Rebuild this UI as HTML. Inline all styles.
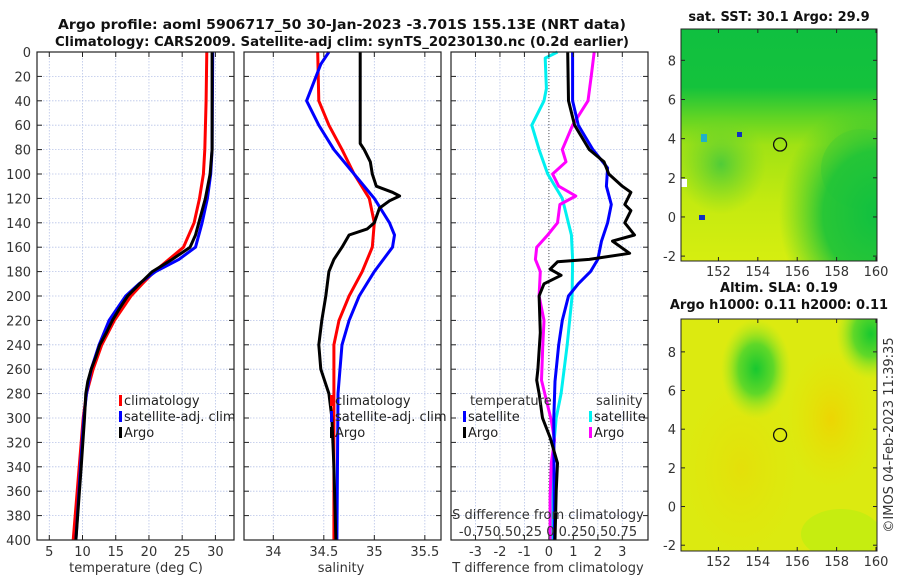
<!DOCTYPE html>
<html><head><meta charset="utf-8"><style>
html,body{margin:0;padding:0;background:#fff;}
svg{display:block;font-family:"DejaVu Sans","Liberation Sans",sans-serif;}
</style></head><body>
<svg id="fig" width="900" height="580" viewBox="0 0 900 580" xmlns="http://www.w3.org/2000/svg">
<defs>
<linearGradient id="sstBase" x1="0" y1="0" x2="0" y2="1">
<stop offset="0" stop-color="#10c040"/><stop offset="0.25" stop-color="#14c23c"/>
<stop offset="0.38" stop-color="#60d424"/><stop offset="0.5" stop-color="#a0e214"/>
<stop offset="0.75" stop-color="#c4ea10"/><stop offset="1" stop-color="#d6ee10"/></linearGradient>
<radialGradient id="sstRight" cx="1" cy="0.8" r="0.5"><stop offset="0" stop-color="#10c040"/><stop offset="0.55" stop-color="#20c438" stop-opacity="0.95"/><stop offset="1" stop-color="#40cc30" stop-opacity="0"/></radialGradient>
<radialGradient id="sstLeft" cx="0.5" cy="0.5" r="0.5"><stop offset="0" stop-color="#50cc38"/><stop offset="1" stop-color="#70d428" stop-opacity="0"/></radialGradient>
<radialGradient id="slaGreen" cx="0.5" cy="0.5" r="0.5"><stop offset="0" stop-color="#18c830"/><stop offset="0.5" stop-color="#60d828"/><stop offset="1" stop-color="#a8e820" stop-opacity="0"/></radialGradient>
<radialGradient id="slaOrange" cx="0.5" cy="0.5" r="0.5"><stop offset="0" stop-color="#f0d000"/><stop offset="1" stop-color="#e8e000" stop-opacity="0"/></radialGradient>
</defs>
<g id="titles" font-weight="bold" font-size="13" text-anchor="middle" fill="#111">
<text x="342" y="29" textLength="568" lengthAdjust="spacingAndGlyphs">Argo profile: aoml 5906717_50 30-Jan-2023 -3.701S 155.13E (NRT data)</text>
<text x="342" y="46" textLength="574" lengthAdjust="spacingAndGlyphs">Climatology: CARS2009. Satellite-adj clim: synTS_20230130.nc (0.2d earlier)</text>
</g>
<g id="panels"></g>
<g id="maps"></g>
<text transform="translate(893,435) rotate(-90)" text-anchor="middle" font-size="13" fill="#333">©IMOS 04-Feb-2023 11:39:35</text>
</svg>
<script>
// ---- data ----
const depthTicks = [0,20,40,60,80,100,120,140,160,180,200,220,240,260,280,300,320,340,360,380,400];
const tempTicks = [5,10,15,20,25,30];
const salTicks = [34,34.5,35,35.5];
const salTickLabels = ["34","34.5","35","35.5"];
const diffTicks = [-3,-2,-1,0,1,2,3];

const climTDepth = [0,40,80,100,120,140,160,170,180,190,200,220,240,260,280,300,340,400];
const climT = [28.7,28.6,28.4,28.2,27.6,26.8,25.2,23.0,20.8,19.0,17.3,14.8,12.9,11.6,10.6,10.1,9.5,8.6];
const satTDepth = [0,80,100,120,140,160,170,180,190,200,220,240,260,280,300,340,400];
const satT = [29.6,29.5,29.3,28.8,28.0,27.0,24.5,21.0,18.5,16.5,14.0,12.5,11.3,10.6,10.2,9.7,9.0];
const argoTDepth = [0,80,100,120,140,150,160,170,180,190,200,210,220,230,240,250,260,270,280,300,340,400];
const argoT = [29.5,29.5,29.2,28.5,27.5,27.0,26.2,23.5,20.5,18.6,16.8,15.6,14.5,13.6,12.6,12.0,11.3,10.8,10.5,10.3,9.8,9.0];

const climSDepth = [0,40,60,80,100,120,140,160,180,200,220,240,280,400];
const climS = [34.44,34.45,34.55,34.68,34.8,34.95,35.0,34.98,34.88,34.75,34.65,34.6,34.6,34.6];
const satSDepth = [0,10,40,60,80,100,120,140,150,160,180,200,220,240,280,400];
const satS = [34.55,34.47,34.33,34.45,34.6,34.8,35.0,35.15,35.2,35.18,35.0,34.85,34.75,34.68,34.64,34.63];
const argoSDepth = [0,75,80,90,100,110,115,118,122,128,140,145,150,160,170,180,200,220,240,260,280,300,340,400];
const argoS = [34.86,34.86,34.9,34.96,34.98,35.02,35.18,35.25,35.15,35.05,35.0,34.93,34.75,34.68,34.6,34.55,34.52,34.48,34.45,34.47,34.55,34.58,34.6,34.62];

// differences (T units; salinity diff plotted scaled x4)
const dSatTDepth = [0,40,60,80,95,110,125,140,155,170,180,190,200,220,240,270,300,400];
const dSatT = [0.97,0.97,1.2,1.8,2.4,2.35,2.55,2.4,2.15,2.0,1.7,1.2,0.8,0.55,0.4,0.25,0.2,0.22];
const dArgoTDepth = [0,40,60,80,90,100,110,115,125,130,140,150,155,165,170,172,178,183,190,200,230,260,269,280,300,316,337,360,400];
const dArgoT = [0.77,0.8,1.05,1.65,2.25,2.45,3.0,3.35,3.1,3.35,3.1,3.5,2.6,3.3,1.65,0.35,0.05,0.5,-0.2,-0.4,-0.35,-0.45,-0.5,-0.4,-0.26,0.05,0.35,0.3,0.25];
const dSatSDepth = [0,5,30,40,60,80,100,120,150,170,200,240,280,300,340,400];
const dSatS = [0.35,-0.15,-0.1,-0.2,-0.7,-0.4,-0.05,0.55,0.92,0.97,0.95,0.75,0.5,0.3,0.12,0.15];
const dArgoSDepth = [0,20,40,60,80,90,100,110,118,125,140,150,160,170,180,200,220,240,269,302,318,337,365,400];
const dArgoS = [1.85,1.73,1.6,0.97,0.55,0.7,0.15,0.4,1.1,0.45,0.35,-0.05,-0.5,-0.55,-0.35,-0.4,-0.2,-0.25,-0.3,0.1,0.23,0.1,0.05,0.05];
const sDiffLabelText = "-0.750.50.25 0 0.250.50.75";

const lonTicks = [152,154,156,158,160];
const latTicks = [-2,0,2,4,6,8];
const floatLon = [155.13];
const floatLat = [3.7];

// ---- helpers ----
const NS = "http://www.w3.org/2000/svg";
function mk(tag, attrs, parent){const e=document.createElementNS(NS,tag);for(const k in attrs)e.setAttribute(k,attrs[k]);parent.appendChild(e);return e;}
const top0 = 52, bot0 = 540;
const yD = d => top0 + (d/400)*(bot0-top0);
const panelsG = document.getElementById('panels');

function panel(name, x0, x1, dmin, dmax){
  const g = mk('g',{},panelsG);
  
  
  const xs = v => x0 + (v-dmin)/(dmax-dmin)*(x1-x0);
  return {g, xs, x0, x1};
}
function grid(p, xt){
  depthTicks.forEach(d=>{
    const l = mk('line',{x1:p.x0,x2:p.x1,y1:yD(d),y2:yD(d),stroke:'#b8c4e8','stroke-width':0.8,'stroke-dasharray':'1.5,1.5'},p.g);
    
    
  });
  xt.forEach(v=>{
    const l = mk('line',{x1:p.xs(v),x2:p.xs(v),y1:top0,y2:bot0,stroke:'#b8c4e8','stroke-width':0.8,'stroke-dasharray':'1.5,1.5'},p.g);
    
    
  });
}
function frame(p, xt, labels, ylabels){
  const r = mk('rect',{x:p.x0,y:top0,width:p.x1-p.x0,height:bot0-top0,fill:'none',stroke:'#222','stroke-width':1.2},p.g);
  
  
  depthTicks.forEach(d=>{
    mk('line',{x1:p.x0,x2:p.x0+5,y1:yD(d),y2:yD(d),stroke:'#222'},p.g);
    mk('line',{x1:p.x1,x2:p.x1-5,y1:yD(d),y2:yD(d),stroke:'#222'},p.g);
    if(ylabels){
      const t = mk('text',{x:p.x0-6,y:yD(d)+5,'text-anchor':'end','font-size':13,fill:'#333'},p.g);
      t.textContent = d;
      
      
    }
  });
  xt.forEach((v,i)=>{
    mk('line',{x1:p.xs(v),x2:p.xs(v),y1:bot0,y2:bot0-5,stroke:'#222'},p.g);
    mk('line',{x1:p.xs(v),x2:p.xs(v),y1:top0,y2:top0+5,stroke:'#222'},p.g);
    const t = mk('text',{x:p.xs(v),y:556,'text-anchor':'middle','font-size':13,fill:'#333'},p.g);
    t.textContent = labels[i];
    
    
  });
}
function line(p, depths, vals, color, w, name){
  const pts = depths.map((d,i)=>p.xs(vals[i]).toFixed(1)+','+yD(d).toFixed(1)).join(' ');
  const l = mk('polyline',{points:pts,fill:'none',stroke:color,'stroke-width':w,'stroke-linejoin':'round'},p.g);
  
  
}
function legend(p, x, y, color, label, name){
  const r = mk('rect',{x:x,y:y-10,width:3,height:11,fill:color},p.g);
  
  
  const t = mk('text',{x:x+5,y:y,'font-size':13,fill:'#222'},p.g);
  t.textContent = label;
  
  
}
function text(p, x, y, s, name, anchor){
  const t = mk('text',{x:x,y:y,'font-size':13,fill:'#333','text-anchor':anchor||'middle'},p.g);
  t.textContent = s;
  
  
}

// Panel 1: temperature
const p1 = panel('temperature-panel', 37, 234, 3.15, 32.8);
grid(p1, tempTicks);
line(p1, climTDepth, climT, '#ff0000', 3, 'climatology-temperature-line');
line(p1, satTDepth, satT, '#0000ff', 3, 'satellite-temperature-line');
line(p1, argoTDepth, argoT, '#000000', 3, 'argo-temperature-line');
frame(p1, tempTicks, tempTicks.map(String), true);
text(p1, 136, 572, 'temperature (deg C)', 'x-axis-title-temperature');
legend(p1, 119, 405, '#ff0000', 'climatology', 'legend-climatology');
legend(p1, 119, 421, '#0000ff', 'satellite-adj. clim', 'legend-satellite-adj');
legend(p1, 119, 437, '#000000', 'Argo', 'legend-argo');

// Panel 2: salinity
const p2 = panel('salinity-panel', 244, 441, 33.71, 35.66);
grid(p2, salTicks);
line(p2, climSDepth, climS, '#ff0000', 3, 'climatology-salinity-line');
line(p2, satSDepth, satS, '#0000ff', 3, 'satellite-salinity-line');
line(p2, argoSDepth, argoS, '#000000', 3, 'argo-salinity-line');
frame(p2, salTicks, salTickLabels, false);
text(p2, 341, 572, 'salinity', 'x-axis-title-salinity');
legend(p2, 330, 405, '#ff0000', 'climatology', 'legend-climatology-2');
legend(p2, 330, 421, '#0000ff', 'satellite-adj. clim', 'legend-satellite-adj-2');
legend(p2, 330, 437, '#000000', 'Argo', 'legend-argo-2');

// Panel 3: differences
const p3 = panel('difference-panel', 451, 648, -4.0, 4.05);
grid(p3, diffTicks);
const zl = mk('line',{x1:p3.xs(0),x2:p3.xs(0),y1:top0,y2:bot0,stroke:'#555','stroke-width':1,'stroke-dasharray':'1,2'},p3.g);


line(p3, dSatSDepth, dSatS, '#00f0f0', 3, 'salinity-satellite-diff-line');
line(p3, dArgoSDepth, dArgoS, '#ff00ff', 3, 'salinity-argo-diff-line');
line(p3, dSatTDepth, dSatT, '#0000ff', 3, 'temperature-satellite-diff-line');
line(p3, dArgoTDepth, dArgoT, '#000000', 3, 'temperature-argo-diff-line');
frame(p3, diffTicks, diffTicks.map(String), false);
text(p3, 548, 572, 'T difference from climatology', 'x-axis-title-t-diff');
text(p3, 548, 519, 'S difference from climatology', 'x-axis-title-s-diff');
text(p3, 548, 536, sDiffLabelText, 'salinity-diff-tick-labels');
text(p3, 470, 405, 'temperature', 'legend-temperature-heading', 'start');
text(p3, 596, 405, 'salinity', 'legend-salinity-heading', 'start');
legend(p3, 463, 421, '#0000ff', 'satellite', 'legend-t-satellite');
legend(p3, 463, 437, '#000000', 'Argo', 'legend-t-argo');
legend(p3, 589, 421, '#00f0f0', 'satellite', 'legend-s-satellite');
legend(p3, 589, 437, '#ff00ff', 'Argo', 'legend-s-argo');

// ---- maps ----
const mapsG = document.getElementById('maps');
function map(name, y0, y1, latMin, latMax, title1, title2, fillFn){
  const x0=681, x1=877, lonMin=150.1, lonMax=160.05;
  const g = mk('g',{},mapsG);
  
  
  const xs = v => x0 + (v-lonMin)/(lonMax-lonMin)*(x1-x0);
  const ys = v => y1 - (v-latMin)/(latMax-latMin)*(y1-y0);
  const inner = mk('svg',{x:x0,y:y0,width:x1-x0,height:y1-y0,viewBox:`0 0 ${x1-x0} ${y1-y0}`,preserveAspectRatio:'none'},g);
  fillFn(inner, x1-x0, y1-y0);
  const c = mk('circle',{cx:xs(floatLon[0]),cy:ys(floatLat[0]),r:6.5,fill:'none',stroke:'#111','stroke-width':1.3},g);
  
  
  const r = mk('rect',{x:x0,y:y0,width:x1-x0,height:y1-y0,fill:'none',stroke:'#222','stroke-width':1},g);
  
  
  lonTicks.forEach(v=>{
    mk('line',{x1:xs(v),x2:xs(v),y1:y1,y2:y1-4,stroke:'#222'},g);
    mk('line',{x1:xs(v),x2:xs(v),y1:y0,y2:y0+4,stroke:'#222'},g);
    const t = mk('text',{x:xs(v),y:y1+15,'text-anchor':'middle','font-size':13,fill:'#333'},g);
    t.textContent = v;
    
    
  });
  latTicks.forEach(v=>{
    mk('line',{x1:x0,x2:x0+4,y1:ys(v),y2:ys(v),stroke:'#222'},g);
    mk('line',{x1:x1,x2:x1-4,y1:ys(v),y2:ys(v),stroke:'#222'},g);
    const t = mk('text',{x:x0-5,y:ys(v)+5,'text-anchor':'end','font-size':13,fill:'#333'},g);
    t.textContent = v;
    
    
  });
  const tt = mk('text',{x:779,y:title2? y0-27: y0-8,'text-anchor':'middle','font-size':13,'font-weight':'bold',fill:'#111'},g);
  tt.textContent = title1;
  
  
  if(title2){
    const t2 = mk('text',{x:779,y:y0-10,'text-anchor':'middle','font-size':13,'font-weight':'bold',fill:'#111'},g);
    t2.textContent = title2;
    
    
  }
}
map('sst-map', 29, 261, -2.25, 9.6, 'sat. SST: 30.1 Argo: 29.9', null, (s,w,h)=>{
  mk('rect',{x:0,y:0,width:w,height:h,fill:'url(#sstBase)'},s);
  mk('ellipse',{cx:40,cy:135,rx:45,ry:50,fill:'url(#sstLeft)'},s);
  mk('ellipse',{cx:180,cy:140,rx:40,ry:40,fill:'#60d028',opacity:0.5},s);
  mk('rect',{x:0,y:0,width:w,height:h,fill:'url(#sstRight)'},s);
  mk('rect',{x:0,y:150,width:6,height:8,fill:'#ffffff'},s);
  mk('rect',{x:18,y:186,width:6,height:5,fill:'#1030c0'},s);
  mk('rect',{x:56,y:103,width:5,height:5,fill:'#1030c0'},s);
  mk('rect',{x:20,y:105,width:6,height:8,fill:'#20b0c8'},s);
});
map('sla-map', 319, 551, -2.3, 9.7, 'Altim. SLA: 0.19', 'Argo h1000: 0.11 h2000: 0.11', (s,w,h)=>{
  mk('rect',{x:0,y:0,width:w,height:h,fill:'#dcea10'},s);
  mk('ellipse',{cx:150,cy:100,rx:45,ry:70,fill:'url(#slaOrange)',opacity:0.8},s);
  mk('ellipse',{cx:60,cy:150,rx:60,ry:90,fill:'url(#slaOrange)',opacity:0.4},s);
  mk('ellipse',{cx:75,cy:50,rx:35,ry:50,fill:'url(#slaGreen)'},s);
  mk('ellipse',{cx:190,cy:15,rx:35,ry:45,fill:'url(#slaGreen)'},s);
  mk('ellipse',{cx:160,cy:215,rx:40,ry:25,fill:'#b8ee10',opacity:0.6},s);
});
</script>
</body></html>
